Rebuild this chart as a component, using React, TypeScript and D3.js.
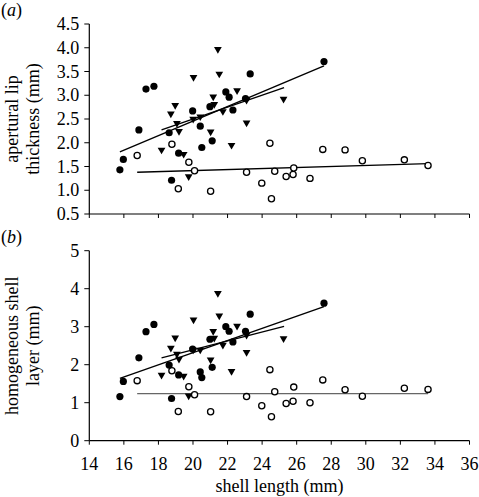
import React from "react";
import * as d3 from "d3";

// shell length (mm) for each group
const filledX = [15.77, 15.97, 17.28, 17.74, 16.87, 18.62, 18.76, 19.17, 19.98, 20.42, 20.51, 21.11, 20.98, 21.9, 22.09, 22.31, 23.04, 23.31, 27.58];
const filledA = [1.43, 1.65, 3.13, 3.19, 2.27, 2.21, 1.21, 1.78, 2.67, 2.35, 1.9, 2.04, 2.76, 3.07, 2.96, 2.69, 2.93, 3.45, 3.71];
const filledB = [1.16, 1.56, 2.87, 3.06, 2.18, 1.99, 1.11, 1.73, 2.41, 1.81, 1.66, 1.93, 2.67, 3.0, 2.88, 2.6, 2.88, 3.33, 3.62];

const triX = [21.44, 21.52, 20.03, 22.55, 21.17, 18.97, 18.72, 21.23, 20.42, 20.01, 21.73, 23.1, 23.1, 19.07, 19.19, 21.02, 18.18, 19.46, 22.23, 19.75, 25.24];
const triA = [3.97, 3.45, 3.38, 3.1, 2.97, 2.79, 2.61, 2.81, 2.55, 2.5, 2.66, 2.9, 2.42, 2.41, 2.24, 2.23, 1.85, 1.76, 1.95, 1.29, 2.92];
const triB = [3.88, 3.29, 3.18, 3.02, 2.88, 2.71, 2.44, 2.7, 2.39, 2.39, 2.52, 2.78, 2.33, 2.28, 2.15, 2.13, 1.73, 1.7, 1.83, 1.18, 2.69];

const openX = [16.77, 18.78, 19.76, 20.09, 19.15, 21.02, 23.1, 23.98, 24.45, 24.54, 24.73, 25.39, 25.79, 25.83, 26.77, 27.51, 28.8, 29.8, 32.23, 33.6];
const openA = [1.73, 1.97, 1.59, 1.41, 1.03, 0.98, 1.38, 1.15, 1.99, 0.82, 1.4, 1.29, 1.33, 1.47, 1.25, 1.86, 1.85, 1.62, 1.64, 1.52];
const openB = [1.58, 1.84, 1.42, 1.21, 0.77, 0.76, 1.16, 0.92, 1.87, 0.63, 1.29, 0.98, 1.04, 1.41, 1.0, 1.6, 1.34, 1.17, 1.38, 1.35];

// regression line end points [x0, y0, x1, y1]
const fitFilledA = [15.77, 1.81, 27.58, 3.62];
const fitTriA = [18.18, 2.27, 25.27, 3.16];
const fitOpenA = [16.77, 1.38, 33.6, 1.56];
const fitFilledB = [15.77, 1.64, 27.58, 3.53];
const fitTriB = [18.18, 2.18, 25.27, 3.01];
const fitOpenB = [16.77, 1.24, 33.6, 1.24];

const xTicks = [14, 16, 18, 20, 22, 24, 26, 28, 30, 32, 34, 36];
const yTicksA = [0.5, 1.0, 1.5, 2.0, 2.5, 3.0, 3.5, 4.0, 4.5];
const yTicksB = [0, 1, 2, 3, 4, 5];

const FONT = "Liberation Serif, Times New Roman, Times, serif";
const FS = 18;

const x = d3.scaleLinear().domain([14, 36]).range([89.3, 469.5]);
const yA = d3.scaleLinear().domain([0.5, 4.5]).range([214, 24]);
const yB = d3.scaleLinear().domain([0, 5]).range([440.7, 250.7]);

const triPath = d3.symbol().type(d3.symbolTriangle).size(26)();

function Panel({ y, ticks, fmt, fA, tA, oA, lines, label, title, showXLabels, openColor }: any) {
  const [y0, y1] = y.range();
  const cy = (y0 + y1) / 2;
  return (
    <g>
      {/* axes */}
      <line x1={x(14)} x2={x(36)} y1={y0} y2={y0} stroke="#000" strokeWidth={1.2} />
      <line x1={x(14)} x2={x(14)} y1={y0} y2={y1} stroke="#000" strokeWidth={1.2} />
      {xTicks.map((t) => (
        <line key={"xt" + t} x1={x(t)} x2={x(t)} y1={y0} y2={y0 + 4} stroke="#000" strokeWidth={1} />
      ))}
      {showXLabels &&
        xTicks.map((t) => (
          <text key={"xl" + t} x={x(t)} y={y0 + 29} textAnchor="middle" fontFamily={FONT} fontSize={FS}>
            {t}
          </text>
        ))}
      {ticks.map((t: number) => (
        <g key={"yt" + t}>
          <line x1={x(14) - 5} x2={x(14)} y1={y(t)} y2={y(t)} stroke="#000" strokeWidth={1} />
          <text x={x(14) - 10} y={y(t) + 6} textAnchor="end" fontFamily={FONT} fontSize={FS}>
            {fmt(t)}
          </text>
        </g>
      ))}
      {/* regression lines */}
      {lines.map((l: number[], i: number) => (
        <line
          key={"l" + i}
          x1={x(l[0])}
          y1={y(l[1])}
          x2={x(l[2])}
          y2={y(l[3])}
          stroke={i === 2 ? openColor : "#000"}
          strokeWidth={1.4}
        />
      ))}
      {/* points */}
      {openX.map((v, i) => (
        <circle key={"o" + i} cx={x(v)} cy={y(oA[i])} r={3.1} fill="#fff" stroke="#000" strokeWidth={1.3} />
      ))}
      {triX.map((v, i) => (
        <path key={"t" + i} d={triPath} transform={`translate(${x(v)},${y(tA[i])}) rotate(180)`} fill="#000" />
      ))}
      {filledX.map((v, i) => (
        <circle key={"f" + i} cx={x(v)} cy={y(fA[i])} r={3.6} fill="#000" />
      ))}
      {/* labels */}
      <text x={1} y={y1 - 8} fontFamily={FONT} fontSize={FS}>
        (<tspan fontStyle="italic">{label}</tspan>)
      </text>
      <text transform={`translate(18,${cy}) rotate(-90)`} textAnchor="middle" fontFamily={FONT} fontSize={FS}>
        {title[0]}
      </text>
      <text transform={`translate(39,${cy}) rotate(-90)`} textAnchor="middle" fontFamily={FONT} fontSize={FS}>
        {title[1]}
      </text>
    </g>
  );
}

export default function App() {
  return (
    <svg width={479} height={497} style={{ position: "absolute", left: 0, top: 0, background: "#fff" }}>
      <Panel
        y={yA}
        ticks={yTicksA}
        fmt={d3.format(".1f")}
        fA={filledA}
        tA={triA}
        oA={openA}
        lines={[fitFilledA, fitTriA, fitOpenA]}
        label="a"
        title={["apertural lip", "thickness (mm)"]}
        showXLabels={false}
        openColor="#000"
      />
      <Panel
        y={yB}
        ticks={yTicksB}
        fmt={d3.format("d")}
        fA={filledB}
        tA={triB}
        oA={openB}
        lines={[fitFilledB, fitTriB, fitOpenB]}
        label="b"
        title={["homogeneous shell", "layer (mm)"]}
        showXLabels={true}
        openColor="#666"
      />
      <text x={x(25)} y={492} textAnchor="middle" fontFamily={FONT} fontSize={FS}>
        shell length (mm)
      </text>
    </svg>
  );
}
